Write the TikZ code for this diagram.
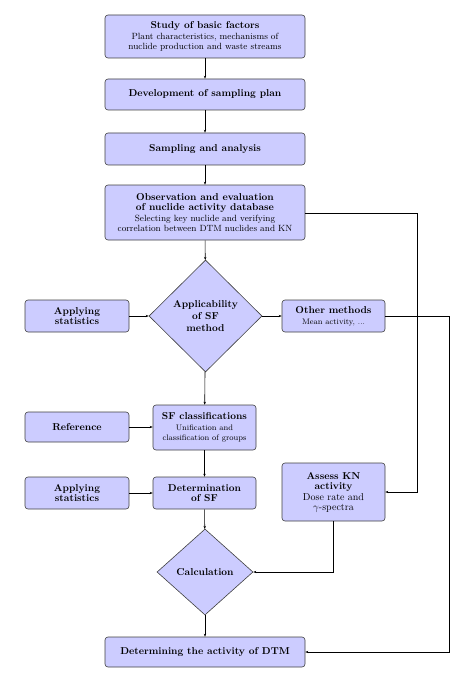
\documentclass[tikz,border=0pt]{standalone}
\usetikzlibrary{shapes.geometric,arrows.meta}
\begin{document}
\begin{tikzpicture}[x=1pt,y=-1pt,
  box/.style={draw=black!75, fill=blue!20, rounded corners=3pt, align=center, inner sep=1pt, line width=0.6pt},
  dia/.style={draw=black!75, fill=blue!20, diamond, align=center, inner sep=0pt, line width=0.6pt},
  conn/.style={-{Stealth[length=3pt,width=2.4pt]}, line width=0.6pt}]
\useasboundingbox (0,0) rectangle (467,679);
\node[box, minimum width=200pt, minimum height=43pt] (b1) at (205,36.5)
  {\textbf{Study of basic factors}\\[-1pt] {\small Plant characteristics, mechanisms of}\\[-2pt] {\small nuclide production and waste streams}};
\node[box, minimum width=200pt, minimum height=31pt] (b2) at (205,94.5) {\textbf{Development of sampling plan}};
\node[box, minimum width=200pt, minimum height=32pt] (b3) at (205,149) {\textbf{Sampling and analysis}};
\node[box, minimum width=200pt, minimum height=55pt] (b4) at (205,212.5)
  {\textbf{Observation and evaluation}\\[-2pt] \textbf{of nuclide activity database}\\[-1pt] {\small Selecting key nuclide and verifying}\\[-2pt] {\small correlation between DTM nuclides and KN}};
\node[dia, minimum width=113pt, minimum height=112pt] (d1) at (205.5,316) {\textbf{Applicability}\\ \textbf{of SF}\\ \textbf{method}};
\node[box, minimum width=104pt, minimum height=32pt] (as1) at (77,316) {\textbf{Applying}\\[-2pt] \textbf{statistics}};
\node[box, minimum width=103pt, minimum height=32pt] (om) at (333.5,316) {\textbf{Other methods}\\[-1pt] {\footnotesize Mean activity, ...}};
\node[box, minimum width=103pt, minimum height=45pt] (sfc) at (204.5,427.5) {\textbf{SF classifications}\\[-1pt] {\footnotesize Unification and}\\[-2pt] {\footnotesize classification of groups}};
\node[box, minimum width=104pt, minimum height=30pt] (ref) at (77,427) {\textbf{Reference}};
\node[box, minimum width=104pt, minimum height=32pt] (as2) at (77,493) {\textbf{Applying}\\[-2pt] \textbf{statistics}};
\node[box, minimum width=103pt, minimum height=32pt] (dsf) at (204.5,493) {\textbf{Determination}\\[-2pt] \textbf{of SF}};
\node[box, minimum width=103pt, minimum height=58pt] (kn) at (333.5,492) {\textbf{Assess KN}\\[-2pt] \textbf{activity}\\[-1pt] Dose rate and\\[-2pt] $\gamma$-spectra};
\node[dia, minimum width=96pt, minimum height=86pt] (calc) at (205,572) {\textbf{Calculation}};
\node[box, minimum width=200pt, minimum height=30pt] (dtm) at (205,652) {\textbf{Determining the activity of DTM}};
\coordinate (c1) at (417,213);
\coordinate (c2) at (449,316);
\draw[conn] (b1) -- (b2);
\draw[conn] (b2) -- (b3);
\draw[conn] (b3) -- (b4);
\draw[conn] (b4) -- (d1);
\draw[conn] (as1) -- (d1);
\draw[conn] (d1) -- (om);
\draw[conn] (d1) -- (sfc);
\draw[conn] (ref) -- (sfc.west |- ref);
\draw[conn] (sfc) -- (dsf);
\draw[conn] (as2) -- (dsf);
\draw[conn] (dsf) -- (calc);
\draw[conn] (calc) -- (dtm);
\draw[conn] (b4.east |- c1) -- (c1) |- (kn.east);
\draw[conn] (om.east) -- (c2) |- (dtm.east);
\draw[conn] (kn.south) |- (calc.east);
\end{tikzpicture}
\end{document}
